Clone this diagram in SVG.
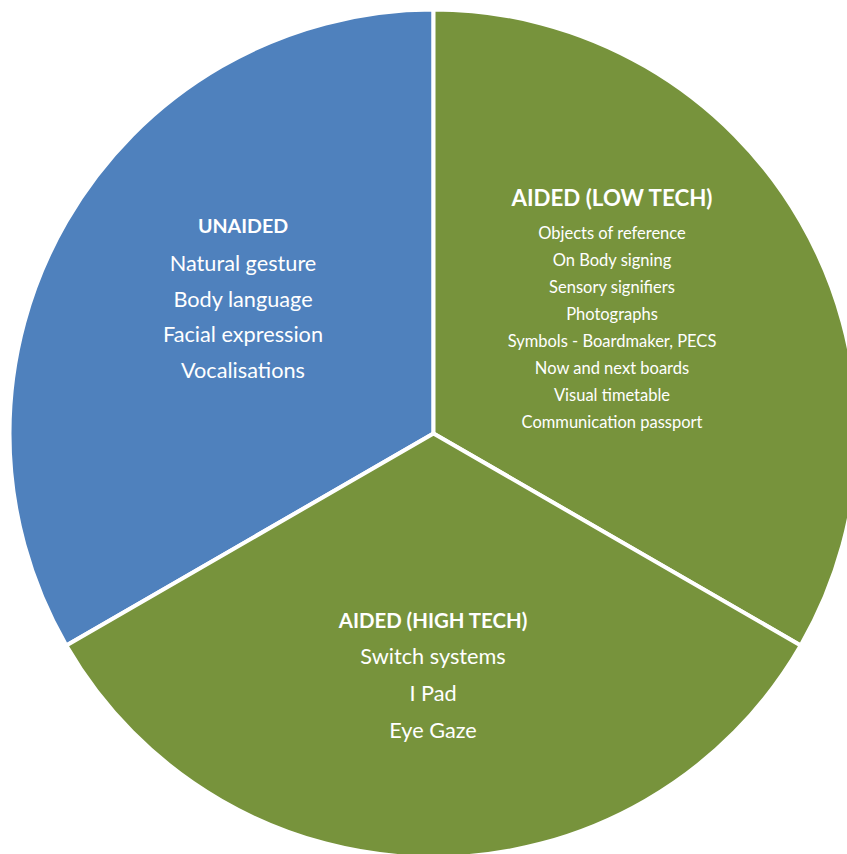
<svg xmlns="http://www.w3.org/2000/svg" width="847" height="854" viewBox="0 0 847 854">
  <style>
    .sector { stroke: #ffffff; stroke-width: 4; stroke-linejoin: round; }
    .blue { fill: #4f81bd; }
    .green { fill: #77933c; }
    text { font-family: Lato, "Open Sans", sans-serif; fill: #ffffff; text-anchor: middle; }
    .head { font-weight: bold; }
    .big { font-size: 21.7px; }
    .small { font-size: 16.5px; }
  </style>
  <rect width="847" height="854" fill="#ffffff"/>

  <!-- three 120-degree sectors around (433.5, 433.5), r = 424 -->
  <g id="unaided">
    <path class="sector blue" d="M433.5 433.5 L433.5 9.5 A424 424 0 0 0 66.3 645.5 Z"/>
    <text class="head" x="243" y="233.3" font-size="19.6">UNAIDED</text>
    <text class="big" x="243" y="271">Natural gesture</text>
    <text class="big" x="243" y="306.7">Body language</text>
    <text class="big" x="243" y="341.7">Facial expression</text>
    <text class="big" x="243" y="378">Vocalisations</text>
  </g>

  <g id="aided-low-tech">
    <path class="sector green" d="M433.5 433.5 L433.5 9.5 A424 424 0 0 1 800.7 645.5 Z"/>
    <text class="head" x="612" y="205.7" font-size="22.3">AIDED (LOW TECH)</text>
    <text class="small" x="612" y="238.5">Objects of reference</text>
    <text class="small" x="612" y="265.6">On Body signing</text>
    <text class="small" x="612" y="292.7">Sensory signifiers</text>
    <text class="small" x="612" y="319.8">Photographs</text>
    <text class="small" x="612" y="346.9">Symbols - Boardmaker, PECS</text>
    <text class="small" x="612" y="374">Now and next boards</text>
    <text class="small" x="612" y="401.1">Visual timetable</text>
    <text class="small" x="612" y="428.2">Communication passport</text>
  </g>

  <g id="aided-high-tech">
    <path class="sector green" d="M433.5 433.5 L800.7 645.5 A424 424 0 0 1 66.3 645.5 Z"/>
    <text class="head" x="433" y="628.3" font-size="20.4">AIDED (HIGH TECH)</text>
    <text class="big" x="433" y="664.3">Switch systems</text>
    <text class="big" x="433" y="701">I Pad</text>
    <text class="big" x="433" y="737.7">Eye Gaze</text>
  </g>

  <g id="connectors"></g>
</svg>
